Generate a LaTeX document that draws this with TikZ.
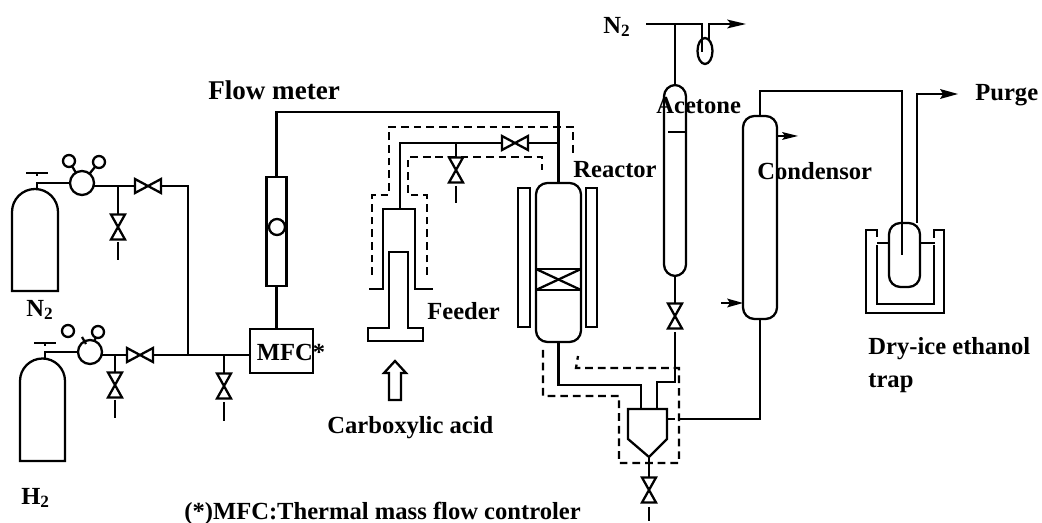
\documentclass[tikz,border=0pt]{standalone}
\usepackage{fontspec}
\setmainfont{Liberation Serif}
\usetikzlibrary{shapes.geometric,positioning}
\def\px{0.02cm}
\tikzset{
  pipe/.style={black,line width=1.3pt},
  trace/.style={black,line width=1.3pt,dash pattern=on 4.4pt off 2.8pt},
  vessel/.style={draw,line width=1.3pt,inner sep=0pt,outer sep=0pt,rounded corners=6.5pt},
  box/.style={draw,line width=1.3pt,inner sep=0pt,outer sep=0pt,rectangle},
  gauge/.style={draw,line width=1.3pt,circle,inner sep=0pt,outer sep=0pt},
  valveh/.style={inner sep=0pt,outer sep=0pt,rectangle,minimum width=26*\px,minimum height=14*\px},
  valvev/.style={inner sep=0pt,outer sep=0pt,rectangle,minimum width=14*\px,minimum height=25*\px},
  tag/.style={font=\bfseries\fontsize{14}{16}\selectfont,inner sep=0pt,anchor=west}
}
\begin{document}
\begin{tikzpicture}[x=0.02cm,y=0.02cm]
\useasboundingbox (0,0) rectangle (1042,-523);
\foreach \name/\x/\y in {vnh/148/186,vhh/140/355,vreach/515/143}{
  \node [valveh] (\name) at (\x,-\y) {};
  \draw [pipe] (\name.north west) -- (\name.south east) -- (\name.north east) -- (\name.south west) -- cycle;
}
\foreach \name/\x/\y in {vnv/118/227,vhv/115/385,vmfc/224/386,vfeed/456/170,vacet/675/316,vsep/649/490}{
  \node [valvev] (\name) at (\x,-\y) {};
  \draw [pipe] (\name.north west) -- (\name.north east) -- (\name.south west) -- (\name.south east) -- cycle;
}
\foreach \name/\x/\y in {stubnv/118/260,stubhv/115/418,stubmfc/224/421,stubfeed/456/203,stubsep/649/521}{
  \coordinate (\name) at (\x,-\y);
}
\draw [pipe] (12,-291) -- (12,-212) arc [start angle=180,end angle=0,radius=23] -- (58,-291) -- cycle;
\draw [pipe] (20,-461) -- (20,-381) arc [start angle=180,end angle=0,radius=22.5] -- (65,-461) -- cycle;
\draw [pipe] (26,-173) -- (48,-173);
\draw [pipe] (37,-173) -- (37,-176);
\draw [pipe] (34,-343) -- (56,-343);
\draw [pipe] (45,-343) -- (45,-346);
\node [gauge,minimum size=24*\px] (regn) at (82,-183) {};
\node [gauge,minimum size=12*\px] (gna) at (69,-161) {};
\node [gauge,minimum size=12*\px] (gnb) at (99,-162) {};
\node [gauge,minimum size=24*\px] (regh) at (90,-352) {};
\node [gauge,minimum size=12*\px] (gha) at (68,-331) {};
\node [gauge,minimum size=12*\px] (ghb) at (98,-332) {};
\draw [pipe] (regn) -- (gna);
\draw [pipe] (regn) -- (gnb);
\draw [pipe] (82,-337) -- (86,-344);
\draw [pipe] (regh) -- (ghb);
\draw [pipe] (37,-190) -- (37,-183) -- (regn.west);
\draw [pipe] (45,-358) -- (45,-352) -- (regh.west);
\draw [pipe] (regn.east |- vnh.west) -- (vnh.west);
\draw [pipe] (regh.east |- vhh.west) -- (vhh.west);
\draw [pipe] (vnv.north) -- (vnv.north |- vnh.west);
\draw [pipe] (vhv.north) -- (vhv.north |- vhh.west);
\draw [pipe] (vmfc.north) -- (vmfc.north |- vhh.east);
\draw [pipe] (vnv.south |- 0,-242) -- (stubnv);
\draw [pipe] (vhv.south |- 0,-400) -- (stubhv);
\draw [pipe] (stubmfc |- 0,-402) -- (stubmfc);
\draw [pipe] (vfeed.south |- 0,-186) -- (stubfeed);
\draw [pipe] (vsep.south |- 0,-507) -- (stubsep);
\node [box,minimum width=63*\px,minimum height=44*\px] (mfc) at (281.5,-351) {};
\node [box,minimum width=20*\px,minimum height=109*\px] (flow) at (276.5,-231.5) {};
\node [gauge,minimum size=16*\px] (ball) at (277,-227) {};
\node [tag] (mfctext) at (256.5,-352) {MFC*};
\draw [pipe] (vnh.east) -- (188,-186) -- (188,-355);
\draw [pipe] (vhh.east) -- (mfc.west |- vhh.east);
\draw [pipe] (flow.south) -- (flow.south |- mfc.north);
\node [vessel,minimum width=45*\px,minimum height=159*\px] (reactor) at (558.5,-262.5) {};
\node [box,minimum width=12*\px,minimum height=139*\px] (jacketa) at (524,-257.5) {};
\node [box,minimum width=11*\px,minimum height=139*\px] (jacketb) at (591.5,-257.5) {};
\draw [pipe] (reactor.west |- 0,-269) -- (reactor.east |- 0,-269);
\draw [pipe] (reactor.west |- 0,-290) -- (reactor.east |- 0,-290);
\draw [pipe] (reactor.west |- 0,-269) -- (reactor.east |- 0,-290);
\draw [pipe] (reactor.east |- 0,-269) -- (reactor.west |- 0,-290);
\draw [pipe] (flow.north) -- (flow.north |- 0,-112) -- (reactor.north |- 0,-112) -- (reactor.north);
\draw [pipe] (400,-209) -- (400,-143) -- (vreach.west);
\draw [pipe] (vreach.east) -- (reactor.north |- vreach.east);
\draw [pipe] (vfeed.north) -- (vfeed.north |- 0,-143);
\draw [trace] (372,-275) -- (372,-195) -- (389,-195) -- (389,-127) -- (573,-127) -- (573,-156);
\draw [trace] (427,-275) -- (427,-195) -- (408,-195) -- (408,-157) -- (542,-157) -- (542,-170);
\draw [pipe] (369,-289) -- (383,-289) -- (383,-209) -- (415,-209) -- (415,-289) -- (433,-289);
\draw [pipe] (389,-328) -- (389,-252) -- (408,-252) -- (408,-328) -- (423,-328) -- (423,-341) -- (368,-341) -- (368,-328) -- cycle;
\draw [pipe] (389,-400) -- (389,-373) -- (384,-373) -- (395,-361) -- (406,-373) -- (401,-373) -- (401,-400) -- cycle;
\node [vessel,minimum width=22*\px,minimum height=191*\px] (acetone) at (675,-180.5) {};
\node [vessel,minimum width=34*\px,minimum height=203*\px] (condensor) at (760,-217.5) {};
\node [vessel,minimum width=31*\px,minimum height=64*\px] (cold) at (904.5,-255) {};
\node [draw,line width=1.3pt,ellipse,inner sep=0pt,minimum width=15*\px,minimum height=26*\px] (bubbler) at (705,-51) {};
\draw [pipe] (acetone.west |- 0,-132) ++(4,0) -- (acetone.east |- 0,-132);
\coordinate (nin) at (646,-24);
\coordinate (nout) at (746,-24);
\coordinate (coolout) at (798,-136);
\coordinate (coolin) at (721,-303);
\coordinate (purge) at (958,-94);
\draw [pipe] (nin) -- (702,-24) -- (702,-52);
\draw [pipe] (acetone.north) -- (acetone.north |- nin);
\draw [pipe] (709,-40) -- (709,-24) -- (733,-24);
\fill [black] (nout) -- (727,-19.5) -- (731,-24) -- (727,-28.5) -- cycle;
\draw [pipe] (acetone.south) -- (vacet.north);
\draw [pipe] (vacet.south |- 0,-332) -- (vacet.south |- 0,-382) -- (657,-382) -- (657,-409);
\draw [pipe] (condensor.east |- coolout) -- (785,-136);
\fill [black] (coolout) -- (782,-132) -- (785,-136) -- (782,-140) -- cycle;
\draw [pipe] (coolin) -- (732,-303);
\fill [black] (condensor.west |- coolin) -- (727,-298.5) -- (730,-303) -- (727,-307.5) -- cycle;
\draw [pipe] (condensor.north) -- (760,-91) -- (902,-91) -- (902,-255);
\draw [pipe] (917,-223) -- (917,-94) -- (943,-94);
\fill [black] (purge) -- (940,-89) -- (943,-94) -- (940,-99) -- cycle;
\draw [pipe] (877,-237) -- (877,-230) -- (866,-230) -- (866,-313) -- (944,-313) -- (944,-230) -- (934,-230) -- (934,-238);
\draw [pipe] (877,-245) -- (877,-304) -- (934,-304) -- (934,-245);
\draw [pipe] (877,-243) -- (cold.west |- 0,-243);
\draw [pipe] (cold.east |- 0,-243) -- (935,-243);
\draw [pipe] (628,-409) -- (667,-409) -- (667,-439) -- (649,-457) -- (628,-439) -- cycle;
\draw [pipe] (reactor.south) -- (reactor.south |- 0,-385) -- (641,-385) -- (641,-409);
\draw [pipe] (649,-457) -- (vsep.north);
\draw [trace] (543,-350) -- (543,-396) -- (619,-396) -- (619,-463) -- (679,-463) -- (679,-368) -- (576,-368) -- (578,-356);
\draw [trace] (667,-419) -- (683,-419);
\draw [pipe] (683,-419) -- (condensor.south |- 0,-419) -- (condensor.south);
\node [tag] (nzwo) at (603,-27) {N\textsubscript{2}};
\node [tag,font=\bfseries\fontsize{15.4}{17}\selectfont] (flowlabel) at (208,-90) {Flow meter};
\node [tag] (acetonelabel) at (656,-106) {Acetone};
\node [tag] (reactorlabel) at (573,-170) {Reactor};
\node [tag] (condensorlabel) at (757,-171) {Condensor};
\node [tag] (purgelabel) at (975,-95) {Purge};
\node [tag] (feederlabel) at (427,-311) {Feeder};
\node [tag] (nlabel) at (26,-310) {N\textsubscript{2}};
\node [tag] (hlabel) at (21,-498) {H\textsubscript{2}};
\node [tag] (acidlabel) at (327,-428) {Carboxylic acid};
\node [tag] (traplabel) at (868,-349) {Dry-ice ethanol};
\node [tag] (traplabelb) at (868,-383) {trap};
\node [tag] (notelabel) at (184,-513) {(*)MFC:Thermal mass flow controler};
\end{tikzpicture}
\end{document}
